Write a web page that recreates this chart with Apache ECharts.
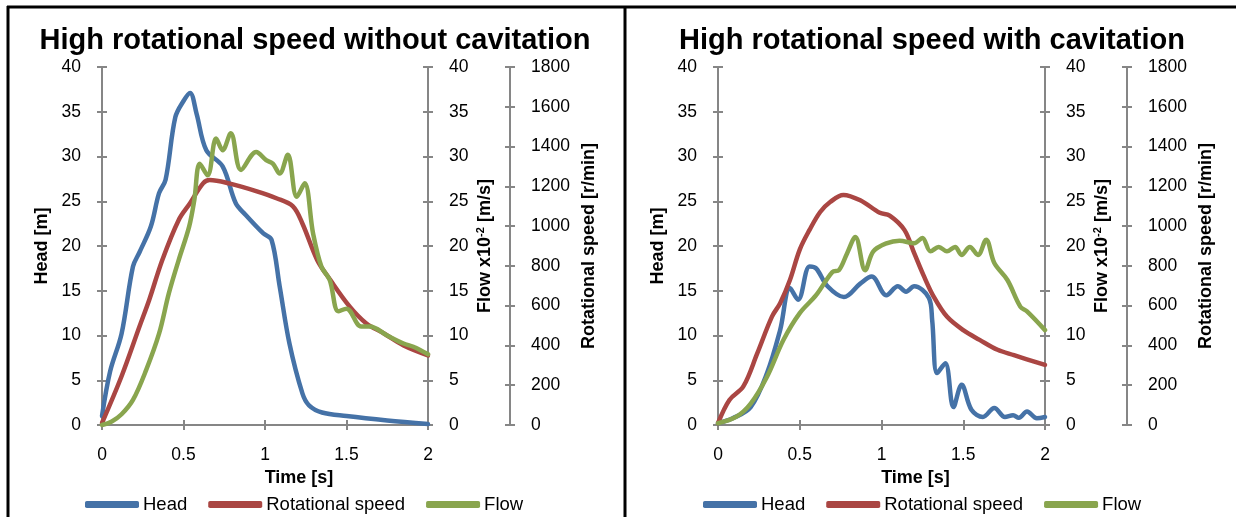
<!DOCTYPE html>
<html><head><meta charset="utf-8">
<script src="https://cdn.jsdelivr.net/npm/echarts@6/dist/echarts.min.js"></script>
<style>html,body{margin:0;padding:0;background:#fff}#c{width:1236px;height:517px}</style>
</head><body><div id="c"></div><script>
// ---------- Data ----------
const titles = ['High rotational speed without cavitation', 'High rotational speed with cavitation'];
const seriesNames = ['Head', 'Rotational speed', 'Flow'];
const xTicks = [0, 0.5, 1, 1.5, 2];
const headTicks = [0, 5, 10, 15, 20, 25, 30, 35, 40];
const flowTicks = [0, 5, 10, 15, 20, 25, 30, 35, 40];
const speedTicks = [0, 200, 400, 600, 800, 1000, 1200, 1400, 1600, 1800];

// Left panel: without cavitation
const noCavHeadT = [0, 0.05, 0.12, 0.19, 0.23, 0.3, 0.35, 0.39, 0.45, 0.5, 0.54, 0.58, 0.64, 0.74, 0.82, 0.88, 0.99, 1.04, 1.09, 1.15, 1.23, 1.27, 1.35, 1.5, 1.75, 2.0];
const noCavHead  = [1.0, 6.0, 10.2, 17.7, 19.3, 22.2, 25.9, 27.4, 34.4, 36.2, 37.1, 34.8, 30.7, 28.9, 24.8, 23.5, 21.4, 20.7, 15.5, 9.1, 3.5, 2.2, 1.4, 1.0, 0.5, 0.1];
const noCavSpeedT = [0, 0.12, 0.23, 0.29, 0.37, 0.47, 0.54, 0.62, 0.66, 0.78, 0.95, 1.07, 1.17, 1.23, 1.32, 1.4, 1.52, 1.62, 1.73, 1.85, 2.0];
const noCavSpeed  = [10, 245, 495, 630, 830, 1030, 1115, 1215, 1232, 1215, 1175, 1140, 1100, 1012, 830, 730, 595, 512, 460, 400, 350];
const noCavFlowT = [0, 0.06, 0.12, 0.19, 0.27, 0.35, 0.41, 0.47, 0.535, 0.566, 0.6, 0.648, 0.7, 0.74, 0.79, 0.853, 0.946, 1.007, 1.048, 1.09, 1.14, 1.195, 1.243, 1.295, 1.346, 1.397, 1.45, 1.5, 1.59, 1.643, 1.75, 1.85, 1.91, 2.0];
const noCavFlow  = [0, 0.4, 1.2, 2.8, 6.1, 10.2, 14.7, 18.4, 22.2, 25.1, 29.2, 27.9, 32.0, 30.7, 32.6, 28.5, 30.5, 29.6, 29.2, 28.1, 30.2, 25.5, 27.0, 21.4, 17.7, 16.2, 12.7, 13.0, 11.0, 11.0, 10.0, 9.1, 8.75, 7.9];

// Right panel: with cavitation
const cavHeadT = [0, 0.09, 0.2, 0.3, 0.38, 0.44, 0.49, 0.56, 0.6, 0.67, 0.77, 0.87, 0.94, 1.03, 1.1, 1.15, 1.2, 1.29, 1.31, 1.34, 1.39, 1.44, 1.49, 1.55, 1.62, 1.69, 1.755, 1.805, 1.84, 1.89, 1.95, 2.0];
const cavHead  = [0.2, 0.75, 2.0, 5.8, 10.6, 15.3, 14.0, 17.7, 17.5, 15.5, 14.3, 15.8, 16.6, 14.5, 15.5, 14.9, 15.5, 14.2, 11.7, 5.8, 6.9, 2.0, 4.5, 1.7, 0.9, 1.9, 0.9, 1.1, 0.8, 1.5, 0.75, 0.9];
const cavSpeedT = [0, 0.07, 0.155, 0.24, 0.33, 0.38, 0.44, 0.5, 0.56, 0.625, 0.686, 0.767, 0.87, 0.99, 1.05, 1.14, 1.2, 1.26, 1.32, 1.4, 1.5, 1.6, 1.71, 1.81, 2.0];
const cavSpeed  = [9, 126, 194, 360, 545, 612, 729, 882, 981, 1071, 1121, 1157, 1130, 1067, 1053, 981, 864, 747, 644, 545, 477, 428, 378, 351, 302];
const cavFlowT = [0, 0.11, 0.2, 0.3, 0.4, 0.5, 0.6, 0.7, 0.74, 0.79, 0.84, 0.9, 0.95, 1.03, 1.11, 1.2, 1.25, 1.3, 1.35, 1.4, 1.45, 1.49, 1.54, 1.59, 1.64, 1.69, 1.77, 1.85, 1.89, 2.0];
const cavFlow  = [0.2, 0.9, 2.4, 5.4, 9.5, 12.5, 14.5, 17.1, 17.3, 19.2, 21.0, 17.3, 19.4, 20.3, 20.6, 20.3, 20.9, 19.4, 19.9, 19.4, 19.9, 19.0, 19.9, 19.0, 20.7, 18.1, 16.2, 13.2, 12.7, 10.6];

// ---------- Styling / build ----------
const FONT = "'Liberation Sans', Arial, sans-serif";
const AX = '#868686';
const COLORS = ['#4572A7', '#AA4643', '#89A54E'];
const zip = (t, v) => t.map((x, i) => [x, v[i]]);
const span = a => ({min: a[0], max: a[a.length - 1], interval: a[1] - a[0]});

const chart = echarts.init(document.getElementById('c'), null, {renderer: 'canvas'});

const grids = [
  {left: 102, top: 67, width: 326, height: 358},
  {left: 718, top: 67, width: 327, height: 358}
];

function lineStyleAx() { return {show: true, lineStyle: {color: AX, width: 2}}; }

const xAxes = [], yAxes = [];
grids.forEach((g, gi) => {
  [false, true].forEach(dup => {
    xAxes.push(Object.assign({
      type: 'value', gridIndex: gi, position: 'bottom',
      axisLine: Object.assign(lineStyleAx(), {onZero: false}),
      axisTick: {show: true, inside: dup, length: 5, lineStyle: {color: AX, width: 2}},
      splitLine: {show: false},
      axisLabel: {show: !dup, margin: 21, color: '#000', fontSize: 17.5, fontFamily: FONT, formatter: v => String(v)},
      name: dup ? '' : 'Time [s]', nameLocation: 'middle', nameGap: 38,
      nameTextStyle: {fontWeight: 'bold', fontSize: 18, color: '#000', fontFamily: FONT, padding: [0, 0, 0, 68]}
    }, span(xTicks)));
  });
});

function yAxis(gi, ticks, position, offset, name, nameGap, dup, rich) {
  return Object.assign({
    type: 'value', gridIndex: gi, position: position, offset: offset,
    axisLine: Object.assign(lineStyleAx(), {onZero: false}),
    axisTick: {show: true, inside: dup, length: 5, lineStyle: {color: AX, width: 2}},
    splitLine: {show: false},
    axisLabel: {show: !dup, margin: 21, color: '#000', fontSize: 17.5, fontFamily: FONT, formatter: v => String(v)},
    name: dup ? '' : name, nameLocation: 'middle', nameGap: nameGap, nameRotate: 90,
    nameTextStyle: {fontWeight: 'bold', fontSize: 18, color: '#000', fontFamily: FONT, rich: rich || {}}
  }, span(ticks));
}
const supRich = {s: {fontSize: 11, fontWeight: 'bold', color: '#000', fontFamily: FONT, verticalAlign: 'top', lineHeight: 20}, n: {fontSize: 18, fontWeight: 'bold', color: '#000', fontFamily: FONT, lineHeight: 20}};
grids.forEach((g, gi) => {
  yAxes.push(yAxis(gi, headTicks, 'left', 0, 'Head [m]', 51, false));
  yAxes.push(yAxis(gi, flowTicks, 'right', 0, '{n|Flow x10}{s|-2}{n| [m/s]}', 47, false, supRich));
  yAxes.push(yAxis(gi, speedTicks, 'right', 82, 'Rotational speed [r/min]', 70, false));
});
grids.forEach((g, gi) => {
  yAxes.push(yAxis(gi, headTicks, 'left', 0, '', 0, true));
  yAxes.push(yAxis(gi, flowTicks, 'right', 0, '', 0, true));
  yAxes.push(yAxis(gi, speedTicks, 'right', 82, '', 0, true));
});

const panelData = [
  [zip(noCavHeadT, noCavHead), zip(noCavSpeedT, noCavSpeed), zip(noCavFlowT, noCavFlow)],
  [zip(cavHeadT, cavHead), zip(cavSpeedT, cavSpeed), zip(cavFlowT, cavFlow)]
];
const yIdx = [0, 2, 1];
const series = [];
panelData.forEach((pd, gi) => {
  pd.forEach((d, si) => {
    series.push({
      type: 'line', name: seriesNames[si], data: d,
      xAxisIndex: gi * 2, yAxisIndex: gi * 3 + yIdx[si],
      showSymbol: false, symbol: 'none', smooth: 0.35,
      lineStyle: {color: COLORS[si], width: 4.5, cap: 'round', join: 'round'},
      itemStyle: {color: COLORS[si]},
      z: 3 + si
    });
  });
});

const legendBase = {
  data: seriesNames, top: 490, itemWidth: 54, itemHeight: 7, itemGap: 21, icon: 'roundRect',
  textStyle: {fontSize: 18.5, color: '#000', fontFamily: FONT, padding: [0, 0, 0, -1]}
};

chart.setOption({
  backgroundColor: '#fff',
  animation: false,
  color: COLORS,
  title: [
    {text: titles[0], left: 310, textAlign: 'center', top: 21, textStyle: {fontSize: 29, fontWeight: 'bold', color: '#000', fontFamily: FONT}},
    {text: titles[1], left: 927, textAlign: 'center', top: 21, textStyle: {fontSize: 29, fontWeight: 'bold', color: '#000', fontFamily: FONT}}
  ],
  legend: [Object.assign({left: 80}, legendBase), Object.assign({left: 698}, legendBase)],
  grid: grids,
  xAxis: xAxes,
  yAxis: yAxes,
  series: series,
  graphic: [
    {type: 'line', shape: {x1: 7, y1: 7, x2: 1236, y2: 7}, style: {stroke: '#000', lineWidth: 3}},
    {type: 'line', shape: {x1: 8, y1: 6, x2: 8, y2: 517}, style: {stroke: '#000', lineWidth: 3}},
    {type: 'line', shape: {x1: 625, y1: 6, x2: 625, y2: 517}, style: {stroke: '#000', lineWidth: 3}}
  ]
});
</script></body></html>
